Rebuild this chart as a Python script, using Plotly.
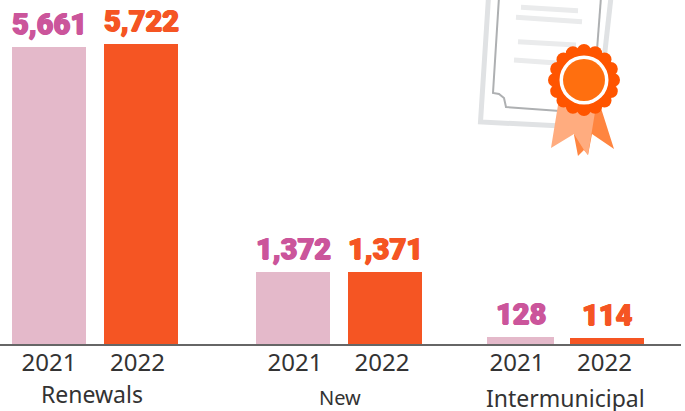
import math
import plotly.graph_objects as go

groups = ["Renewals", "New", "Intermunicipal"]
years = ["2021", "2022"]
values_2021 = [5661, 1372, 128]
values_2022 = [5722, 1371, 114]

W, H = 685, 411
PLOT_W, BASE = 681, 344
PINK, ORANGE = "#E4B9CA", "#F55523"
PINK_TXT = "#CB559B"
centers = [[49, 141], [293, 385], [520.5, 607]]
widths = [[74, 74], [74, 74], [67, 74]]
tick_centers = [49, 137.5, 295, 382, 517, 604.5]
y_max = BASE * 5722 / 300

def px(x): return x / PLOT_W
def py(y): return (BASE - y) / BASE

def path(points, close=True):
    s = "M" + " L".join(f"{px(a):.5f},{py(b):.5f}" for a, b in points)
    return s + (" Z" if close else "")

def poly(points, color):
    return dict(type="path", xref="paper", yref="paper", path=path(points),
                fillcolor=color, line=dict(width=0), layer="above")

def stroke(points, color, w):
    return dict(type="path", xref="paper", yref="paper", path=path(points, False),
                line=dict(color=color, width=w), layer="above")

def circle(cx, cy, r, color):
    return dict(type="circle", xref="paper", yref="paper",
                x0=px(cx - r), x1=px(cx + r), y0=py(cy + r), y1=py(cy - r),
                fillcolor=color, line=dict(width=0), layer="above")

shapes = [
    stroke([(488.5, -3), (480.5, 122), (562, 126)], "#E0E2E4", 5),
    stroke([(611, -3), (604, 60)], "#E0E2E4", 5),
    stroke([(499, -3), (493, 93), (499, 94), (504, 98), (506, 107), (560, 111)], "#AEB0B2", 2),
    stroke([(601, -3), (597, 50)], "#AEB0B2", 2),
    stroke([(521, 7.3), (578, 10.7)], "#EAEBEC", 5),
    stroke([(516, 17.3), (582, 21.7)], "#EAEBEC", 5),
    stroke([(518, 41.7), (576, 45)], "#EAEBEC", 5),
    stroke([(514, 60), (560, 63.3)], "#EAEBEC", 5),
    poly([(600, 105), (614, 149), (592, 134), (588, 155), (584, 150), (578, 156), (574, 135), (590, 110)], "#FF8540"),
    poly([(558, 105), (551, 148), (574, 134), (584, 150), (588, 155), (595, 112)], "#FFAC7F"),
]
for i in range(16):
    a = 2 * math.pi * i / 16
    shapes.append(circle(584 + 29 * math.cos(a), 80 + 29 * math.sin(a), 7, "#FF5500"))
shapes += [circle(584, 80, 30, "#FF5500"), circle(584, 80, 24.5, "#FFFFFF"), circle(584, 80, 21, "#FF6F0F")]

fig = go.Figure()
for j, (vals, color) in enumerate(zip((values_2021, values_2022), (PINK, ORANGE))):
    x = [centers[g][j] for g in range(3)]
    w = [widths[g][j] for g in range(3)]
    fig.add_trace(go.Bar(x=x, y=vals, width=w, marker=dict(color=color, line=dict(width=0)),
                         name=years[j], showlegend=False))

annotations = []
for j, (vals, color) in enumerate(zip((values_2021, values_2022), (PINK_TXT, ORANGE))):
    for g in range(3):
        annotations.append(dict(x=centers[g][j], y=vals[g], xref="x", yref="y",
                                text=f"{vals[g]:,}", showarrow=False, yanchor="bottom", yshift=4,
                                font=dict(family="Roboto", size=29, weight=900, color=color,
                                          shadow=f"0.7px 0 0 {color},-0.7px 0 0 {color},0 0.5px 0 {color}")))
label_pos = [(92, 394, 23), (340, 397, 20), (565, 398, 23)]
for name, (x, y, size) in zip(groups, label_pos):
    annotations.append(dict(x=px(x), y=py(y), xref="paper", yref="paper", text=name,
                            xanchor="center", yanchor="middle",
                            showarrow=False, font=dict(family="Noto Sans", size=size, color="#333333")))

fig.update_layout(
    width=W, height=H, autosize=False, bargap=0,
    margin=dict(l=0, r=W - PLOT_W, t=0, b=H - BASE),
    paper_bgcolor="white", plot_bgcolor="white",
    xaxis=dict(range=[0, PLOT_W], showgrid=False, zeroline=False, showline=True, linecolor="#666666",
               linewidth=2, tickmode="array",
               tickvals=tick_centers,
               ticktext=years * 3, ticks="", ticklen=0, ticklabelstandoff=-4,
               tickfont=dict(family="Noto Sans", size=24, color="#333333")),
    yaxis=dict(range=[0, y_max], visible=False),
    shapes=shapes, annotations=annotations,
)
fig.write_html("out.html", config=dict(displayModeBar=False),
               post_script="document.body.style.margin='0';document.body.style.overflow='hidden';")
